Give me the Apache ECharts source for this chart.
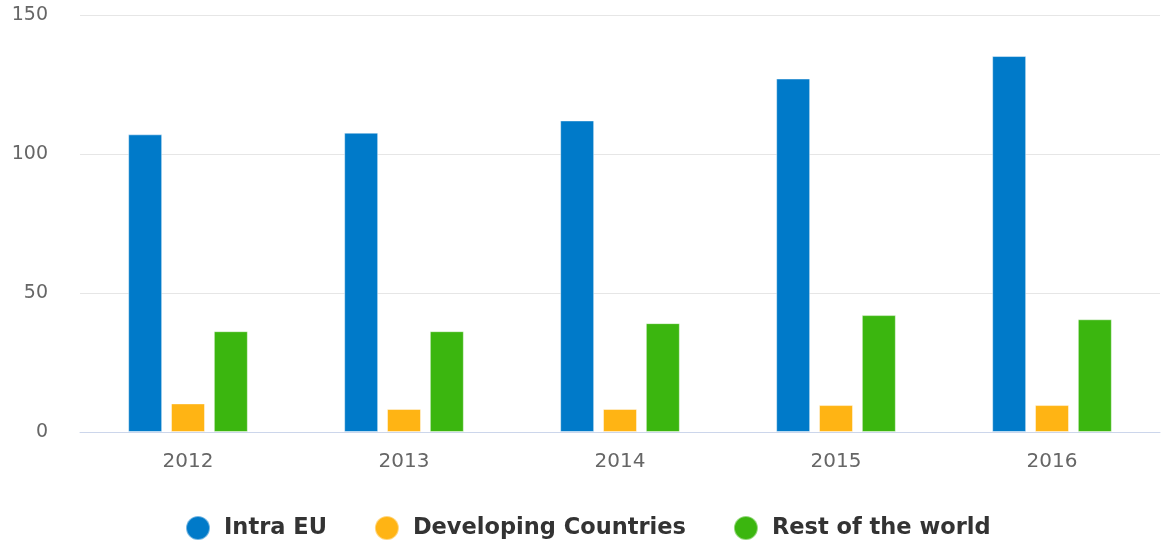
<!DOCTYPE html>
<html>
<head>
<meta charset="utf-8">
<script src="https://cdn.jsdelivr.net/npm/echarts@6/dist/echarts.min.js"></script>
<style>
html,body{margin:0;padding:0;background:#fff;}
#chart{width:1161px;height:541px;}
</style>
</head>
<body>
<div id="chart"></div>
<script>
var years = ['2012', '2013', '2014', '2015', '2016'];
var intraEu = [107.2, 107.8, 112.2, 127.3, 135.4];
var developing = [10.3, 8.3, 8.3, 9.7, 9.7];
var restWorld = [36.3, 36.3, 39.2, 42.1, 40.6];
var yTicks = [0, 50, 100, 150];

var colorList = ['#007ac9', '#ffb414', '#3bb60f'];
var chart = echarts.init(document.getElementById('chart'));

function barSeries(name, data, i) {
	return {
		name: name,
		type: 'bar',
		data: data,
		barWidth: 34,
		barGap: '26%',
		itemStyle: {color: colorList[i], borderColor: 'rgba(255,255,255,0.45)', borderWidth: 1}
	};
}

var option = {
	animation: false,
	grid: {left: 80, right: 1, top: 15.5, bottom: 109},
	legend: {
		top: 510,
		left: 180,
		icon: 'circle',
		itemWidth: 24,
		itemHeight: 24,
		itemGap: 47,
		textStyle: {fontFamily: 'DejaVu Sans', fontWeight: 'bold', fontSize: 22.5, color: '#333333', padding: [0, 0, 0, 9]},
		data: ['Intra EU', 'Developing Countries', 'Rest of the world']
	},
	xAxis: {
		type: 'category',
		data: years,
		axisLine: {lineStyle: {color: '#ccd6eb', width: 1}},
		axisTick: {show: false},
		axisLabel: {fontFamily: 'DejaVu Sans', fontSize: 20, color: '#666666', margin: 20}
	},
	yAxis: {
		type: 'value',
		min: yTicks[0],
		max: yTicks[yTicks.length - 1],
		interval: 50,
		axisLine: {show: false},
		axisTick: {show: false},
		splitLine: {lineStyle: {color: '#e6e6e6', width: 1}},
		axisLabel: {fontFamily: 'DejaVu Sans', fontSize: 19, color: '#666666', margin: 32, padding: [7, 0, 0, 0]}
	},
	series: [
		barSeries('Intra EU', intraEu, 0),
		barSeries('Developing Countries', developing, 1),
		barSeries('Rest of the world', restWorld, 2)
	]
};
chart.setOption(option);
</script>
</body>
</html>
